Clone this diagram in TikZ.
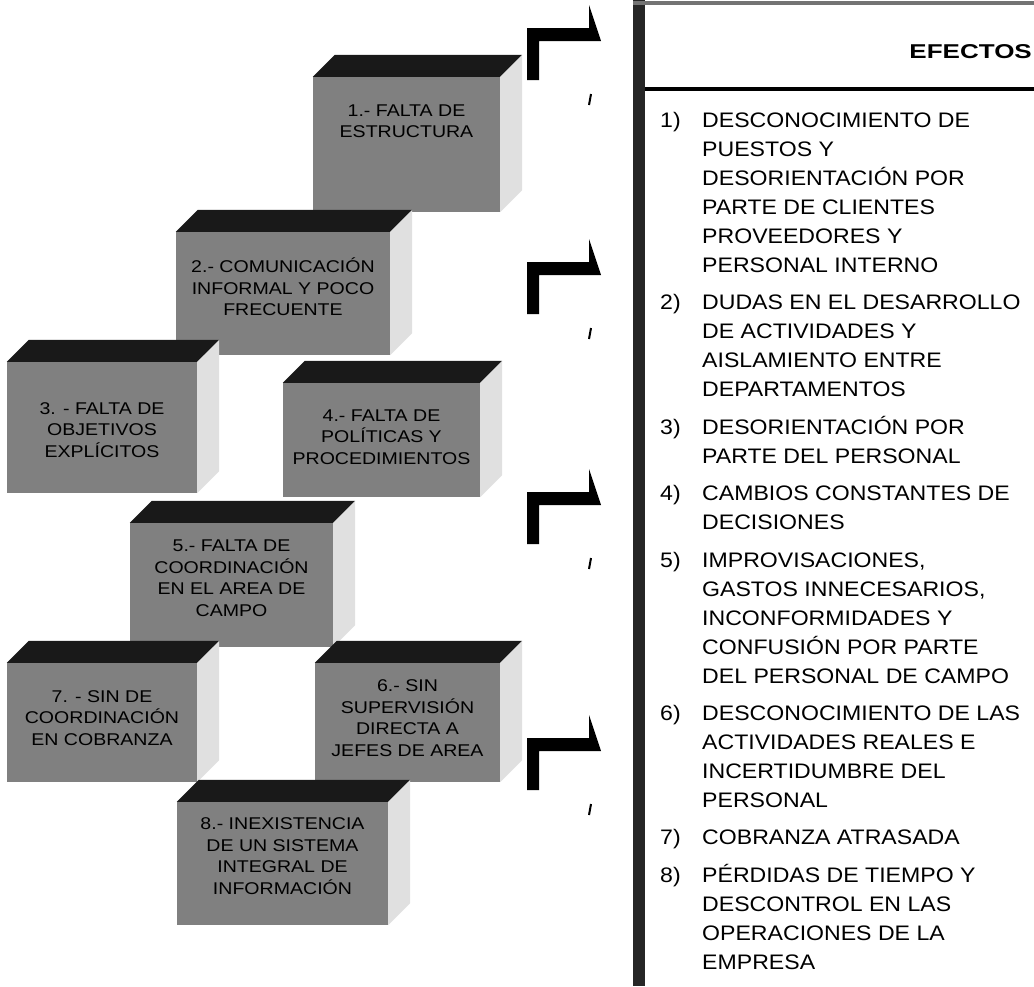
\documentclass[tikz,border=0pt]{standalone}
\usepackage{fontspec}
\setmainfont{Liberation Sans}
\newfontfamily\cajafont[FakeStretch=1.15]{Liberation Sans}
\newfontfamily\efectofont[FakeStretch=1.1]{Liberation Sans}
\newfontfamily\titulofont[FakeStretch=1.3]{Liberation Sans}
\tikzset{
  cara/.style      = {fill=black!50, inner sep=0pt},
  tapa/.style      = {fill=black!90},
  lado/.style      = {fill=black!12},
  textocaja/.style = {align=center, inner sep=0pt,
                      font=\cajafont\fontsize{17}{21.5}\selectfont},
  numero/.style    = {anchor=north west, inner sep=0pt,
                      font=\efectofont\fontsize{21}{29}\selectfont},
  efecto/.style    = {numero, align=left},
  flecha/.style    = {fill=black}
}

\begin{document}
\begin{tikzpicture}[x=1pt,y=-1pt]
  \useasboundingbox (0,0) rectangle (1034,986);
  \foreach \i/\x/\y/\w/\h/\ty/\txt in {
      1/313/77/187/135/121/{1.- FALTA DE\\ESTRUCTURA},
      2/176/232/214/123/287/{2.- COMUNICACIÓN\\INFORMAL Y POCO\\FRECUENTE},
      3/7/362/190/131/430/{3. - FALTA DE\\OBJETIVOS\\EXPLÍCITOS},
      4/283/383/197/114/437/{4.- FALTA DE\\POLÍTICAS Y\\PROCEDIMIENTOS},
      5/130/523/203/124/578/{5.- FALTA DE\\COORDINACIÓN\\EN EL AREA DE\\CAMPO},
      6/315/663/185/119/718/{6.- SIN\\SUPERVISIÓN\\DIRECTA A\\JEFES DE AREA},
      7/7/663/190/119/718/{7. - SIN DE\\COORDINACIÓN\\EN COBRANZA},
      8/177/802/211/123/856/{8.- INEXISTENCIA\\DE UN SISTEMA\\INTEGRAL DE\\INFORMACIÓN}}
  {
    \node[cara, minimum width=\w pt, minimum height=\h pt] (c\i)
          at ({\x+\w/2},{\y+\h/2}) {};
    \fill[tapa] (c\i.north west) -- (c\i.north east) -- ++(22,-22)
          -- ([shift={(22,-22)}]c\i.north west) -- cycle;
    \fill[lado] (c\i.north east) -- (c\i.south east) -- ++(22,-22)
          -- ([shift={(22,-22)}]c\i.north east) -- cycle;
    \node[textocaja] (t\i) at ({\x+\w/2},\ty) {\txt};
  }
  \foreach \y in {28,262,492,738} {
    \fill[flecha] (527,\y) -- (589,\y) -- (589,{\y-23}) -- (601,{\y+13})
          -- (539,{\y+13}) -- (539,{\y+52}) -- (527,{\y+52}) -- cycle;
    \draw[line width=2pt] (591,{\y+66}) -- (589,{\y+77});
  }
  \fill[black!85] (633,0) rectangle (645,986);
  \fill[black!55] (633,1) rectangle (1034,5);
  \draw[line width=4pt] (645,89) -- (1034,89);
  \node[anchor=east, inner sep=0pt,
        font=\titulofont\bfseries\fontsize{20}{24}\selectfont] (titulo)
        at (1032,52) {EFECTOS};
  \foreach \j/\yy/\txt in {
      1/120/{DESCONOCIMIENTO DE\\PUESTOS Y\\DESORIENTACIÓN POR\\PARTE DE CLIENTES\\PROVEEDORES Y\\PERSONAL INTERNO},
      2/302/{DUDAS EN EL DESARROLLO\\DE ACTIVIDADES Y\\AISLAMIENTO ENTRE\\DEPARTAMENTOS},
      3/427/{DESORIENTACIÓN POR\\PARTE DEL PERSONAL},
      4/493/{CAMBIOS CONSTANTES DE\\DECISIONES},
      5/560/{IMPROVISACIONES,\\GASTOS INNECESARIOS,\\INCONFORMIDADES Y\\CONFUSIÓN POR PARTE\\DEL PERSONAL DE CAMPO},
      6/713/{DESCONOCIMIENTO DE LAS\\ACTIVIDADES REALES E\\INCERTIDUMBRE DEL\\PERSONAL},
      7/837/{COBRANZA ATRASADA},
      8/875/{PÉRDIDAS DE TIEMPO Y\\DESCONTROL EN LAS\\OPERACIONES DE LA\\EMPRESA}}
  {
    \node[numero] (n\j) at (660,{\yy-12.8}) {\strut\j)};
    \node[efecto] (e\j) at (702,{\yy-12.8}) {\strut\txt};
  }
\end{tikzpicture}
\end{document}
